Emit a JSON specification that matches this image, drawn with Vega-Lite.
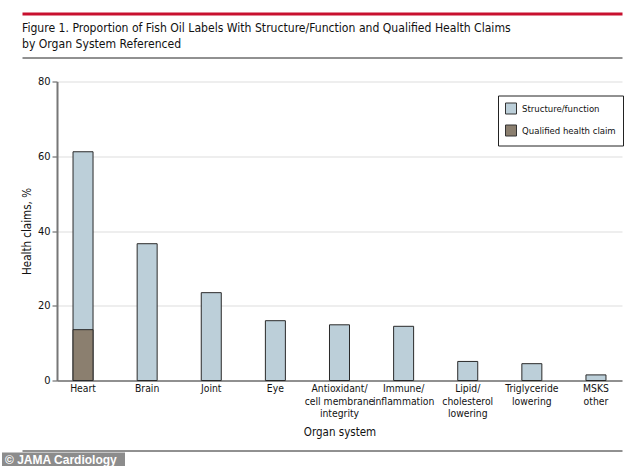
{
  "$schema": "https://vega.github.io/schema/vega-lite/v6.json",
  "background": "white",
  "padding": {"left": 2, "top": 13.5, "right": 0, "bottom": 0},
  "columns": 1,
  "align": "none",
  "spacing": 17,
  "resolve": {"legend": {"color": "independent"}},
  "config": {
    "font": "Liberation Sans Narrow, DejaVu Sans Condensed, sans-serif",
    "view": {"stroke": null}
  },
  "concat": [
    {
      "columns": 1,
      "align": "none",
      "spacing": 7,
      "resolve": {"scale": {"x": "independent"}, "axis": {"x": "independent"}},
      "concat": [
        {
          "width": 565,
          "height": 0.01,
          "data": {"values": []},
          "title": {
            "text": ["Figure 1. Proportion of Fish Oil Labels With Structure/Function and Qualified Health Claims", "by Organ System Referenced"],
            "orient": "bottom",
            "anchor": "start",
            "dx": -35,
            "fontSize": 12.1,
            "fontWeight": "normal",
            "color": "#111111",
            "lineHeight": 16.5,
            "offset": 8
          },
          "mark": "text",
          "encoding": {
            "x": {
              "field": "v",
              "type": "quantitative",
              "scale": {"domain": [0, 1], "range": [-35, 565]},
              "axis": {"orient": "top", "domainColor": "#c8102e", "domainWidth": 3, "labels": false, "ticks": false, "grid": false, "title": null}
            }
          }
        },
        {
          "width": 565,
          "height": 0.01,
          "data": {"values": [{"w": 0}]},
          "mark": {"type": "text", "text": "", "fontSize": 0},
          "encoding": {
            "x": {
              "field": "w",
              "type": "quantitative",
              "scale": {"domain": [0, 1], "range": [-35, 565]},
              "axis": {"orient": "bottom", "domainColor": "#222222", "domainWidth": 1, "labels": false, "ticks": false, "grid": false, "title": null}
            }
          }
        }
      ]
    },
    {
      "columns": 1,
      "align": "none",
      "spacing": 12,
      "resolve": {"legend": {"color": "independent"}},
      "concat": [
        {
          "width": 565,
          "height": 299,
          "data": {
            "values": [
              {"organ": "Heart", "claim": "Structure/function", "value": 61.2},
              {"organ": "Brain", "claim": "Structure/function", "value": 36.6},
              {"organ": "Joint", "claim": "Structure/function", "value": 23.5},
              {"organ": "Eye", "claim": "Structure/function", "value": 16.0},
              {"organ": "Antioxidant/|cell membrane|integrity", "claim": "Structure/function", "value": 14.9},
              {"organ": "Immune/|inflammation", "claim": "Structure/function", "value": 14.5},
              {"organ": "Lipid/|cholesterol|lowering", "claim": "Structure/function", "value": 5.1},
              {"organ": "Triglyceride|lowering", "claim": "Structure/function", "value": 4.5},
              {"organ": "MSKS|other", "claim": "Structure/function", "value": 1.5},
              {"organ": "Heart", "claim": "Qualified health claim", "value": 13.6}
            ]
          },
          "mark": {"type": "bar", "stroke": "#2a2a2a", "strokeWidth": 1},
          "encoding": {
            "x": {
              "field": "organ",
              "type": "nominal",
              "sort": null,
              "scale": {"paddingInner": 0.688, "paddingOuter": 0.25},
              "axis": {
                "title": "Organ system",
                "titleFontSize": 11.5,
                "titleFontWeight": "normal",
                "titleColor": "#111111",
                "titlePadding": 8,
                "labelExpr": "split(datum.label, '|')",
                "labelAngle": 0,
                "labelFontSize": 10.3,
                "labelColor": "#111111",
                "labelLineHeight": 12.5,
                "labelPadding": 3,
                "ticks": false,
                "domainColor": "#333333",
                "domainWidth": 1
              }
            },
            "y": {
              "field": "value",
              "type": "quantitative",
              "stack": null,
              "scale": {"domain": [0, 80]},
              "axis": {
                "title": "Health claims, %",
                "titleFontSize": 11.5,
                "titleFontWeight": "normal",
                "titleColor": "#111111",
                "titlePadding": 5,
                "values": [0, 20, 40, 60, 80],
                "labelFontSize": 11,
                "labelColor": "#111111",
                "labelPadding": 2,
                "tickSize": 5,
                "tickColor": "#555555",
                "domainColor": "#777777",
                "domainWidth": 2,
                "gridColor": "#dddddd",
                "gridWidth": 1
              }
            },
            "color": {
              "field": "claim",
              "type": "nominal",
              "scale": {
                "domain": ["Structure/function", "Qualified health claim"],
                "range": ["#bccfd9", "#8b7f6f"]
              },
              "legend": {
                "title": null,
                "orient": "none",
                "legendX": 441,
                "legendY": 14,
                "strokeColor": "#222222",
                "padding": 7,
                "symbolType": "square",
                "symbolSize": 121,
                "symbolStrokeColor": "#333333",
                "symbolStrokeWidth": 1,
                "symbolOpacity": 1,
                "labelFontSize": 9.5,
                "labelColor": "#111111",
                "labelOffset": 5,
                "rowPadding": 6
              }
            }
          }
        },
        {
          "columns": 1,
          "align": "none",
          "spacing": 1,
          "resolve": {"scale": {"x": "independent"}, "axis": {"x": "independent"}},
          "concat": [
            {
              "width": 565,
              "height": 0.01,
              "data": {"values": []},
              "mark": "text",
              "encoding": {
                "x": {
                  "field": "v",
                  "type": "quantitative",
                  "scale": {"domain": [0, 1], "range": [-35, 565]},
                  "axis": {"orient": "bottom", "domainColor": "#222222", "domainWidth": 1, "labels": false, "ticks": false, "grid": false, "title": null}
                }
              }
            },
            {
              "width": 565,
              "height": 14,
              "data": {"values": [{"label": "© JAMA Cardiology"}]},
              "title": {
                "text": "© JAMA Cardiology",
                "anchor": "start",
                "frame": "group",
                "dx": -52,
                "color": "white",
                "font": "Liberation Sans, Arial, sans-serif",
                "fontSize": 12,
                "fontWeight": "bold",
                "offset": -14,
                "zindex": 1
              },
              "mark": {"type": "bar", "color": "#8c8c8c"},
              "encoding": {
                "x": {
                  "field": "label",
                  "type": "nominal",
                  "scale": {"range": [-55, 68], "paddingInner": 0, "paddingOuter": 0},
                  "axis": null
                }
              }
            }
          ]
        }
      ]
    }
  ]
}
